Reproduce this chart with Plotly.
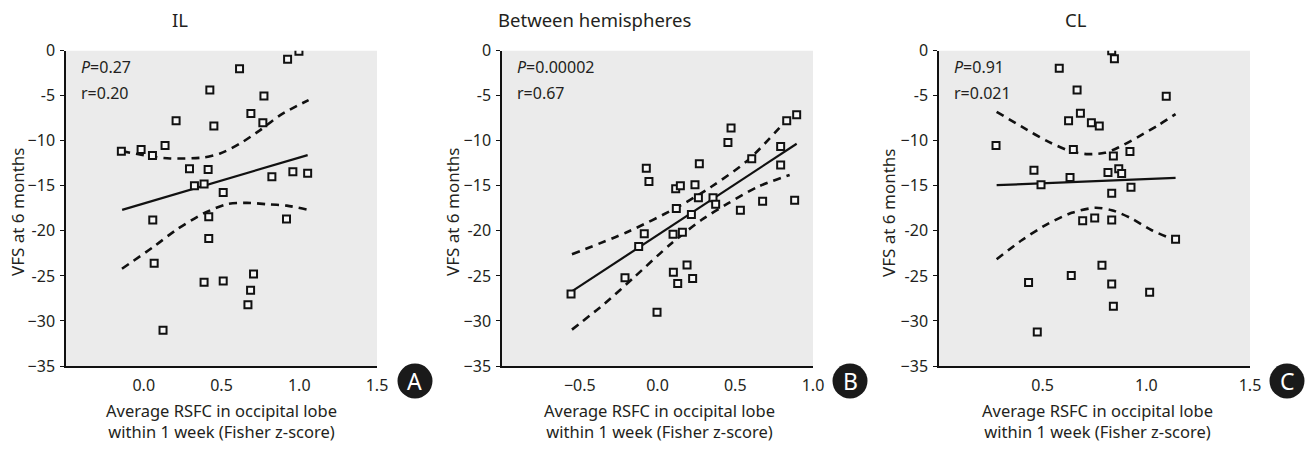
import plotly.graph_objects as go

W, H = 1306, 449

# ---------------- data ----------------
il_x = [-0.144, -0.017, 0.056, 0.137, 0.208, 0.294, 0.414, 0.326, 0.388, 0.425, 0.451,
        0.511, 0.616, 0.689, 0.773, 0.766, 0.824, 0.925, 0.998, 0.959, 1.054, 0.058,
        0.418, 0.418, 0.918, 0.067, 0.388, 0.511, 0.706, 0.687, 0.670, 0.124]
il_y = [-11.15, -10.96, -11.63, -10.52, -7.78, -13.1, -13.19, -15.0, -14.8, -4.37, -8.37,
        -15.74, -2.0, -6.96, -5.04, -8.0, -14.0, -0.96, -0.07, -13.44, -13.6, -18.8,
        -18.44, -20.85, -18.67, -23.6, -25.7, -25.56, -24.78, -26.6, -28.2, -31.04]
il_fit_x = [-0.139, 1.054]
il_fit_y = [-17.67, -11.59]
il_up_x = [-0.14, 0.062, 0.17, 0.384, 0.491, 0.62, 0.749, 0.878, 1.06]
il_up_y = [-11.15, -11.78, -11.96, -11.85, -11.41, -10.3, -8.81, -7.15, -5.48]
il_lo_x = [-0.14, 0.062, 0.212, 0.384, 0.534, 0.663, 0.79, 0.92, 1.049]
il_lo_y = [-24.2, -21.78, -19.85, -18.07, -17.04, -16.89, -17.04, -17.2, -17.63]

bh_x = [-0.556, -0.209, -0.121, -0.085, -0.072, -0.055, -0.003, 0.10, 0.102, 0.13, 0.16,
        0.19, 0.226, 0.121, 0.117, 0.147, 0.218, 0.241, 0.263, 0.269, 0.357, 0.374,
        0.453, 0.473, 0.533, 0.606, 0.676, 0.792, 0.792, 0.831, 0.895, 0.882]
bh_y = [-27.0, -25.2, -21.74, -20.33, -13.04, -14.52, -29.04, -20.37, -24.6, -25.85, -20.15,
        -23.78, -25.3, -17.52, -15.33, -15.0, -18.19, -14.89, -16.33, -12.56, -16.33, -17.04,
        -10.19, -8.59, -17.7, -12.0, -16.7, -10.63, -12.7, -7.78, -7.11, -16.6]
bh_fit_x = [-0.556, 0.895]
bh_fit_y = [-26.78, -10.33]
bh_up_x = [-0.55, -0.19, 0.132, 0.346, 0.582, 0.839]
bh_up_y = [-22.59, -20.1, -17.33, -15.1, -12.15, -7.52]
bh_lo_x = [-0.55, -0.34, -0.147, 0.089, 0.282, 0.453, 0.646, 0.85]
bh_lo_y = [-30.96, -28.07, -25.1, -21.4, -18.8, -16.96, -15.1, -13.8]

cl_x = [0.275, 0.458, 0.492, 0.432, 0.474, 0.58, 0.666, 0.682, 0.625, 0.648, 0.632,
        0.735, 0.773, 0.693, 0.751, 0.638, 0.786, 0.833, 0.846, 0.841, 0.815, 0.867,
        0.881, 0.833, 0.833, 0.833, 0.841, 0.921, 0.926, 1.016, 1.096, 1.141]
cl_y = [-10.52, -13.26, -14.89, -25.74, -31.22, -1.96, -4.37, -6.93, -7.78, -10.96, -14.07,
        -8.0, -8.37, -18.89, -18.56, -24.96, -23.81, 0.0, -0.89, -11.7, -13.52, -13.11,
        -13.63, -15.81, -18.78, -25.89, -28.37, -11.19, -15.15, -26.81, -5.07, -20.93]
cl_fit_x = [0.278, 1.141]
cl_fit_y = [-14.93, -14.11]
cl_up_x = [0.278, 0.399, 0.527, 0.64, 0.72, 0.80, 0.865, 0.961, 1.058, 1.141]
cl_up_y = [-6.78, -8.44, -10.1, -11.2, -11.48, -11.33, -10.74, -9.56, -8.26, -7.04]
cl_lo_x = [0.278, 0.399, 0.527, 0.64, 0.752, 0.833, 0.929, 1.026, 1.141]
cl_lo_y = [-23.15, -21.04, -19.19, -18.0, -17.44, -17.7, -18.63, -19.93, -21.04]

panel_titles = ["IL", "Between hemispheres", "CL"]
p_texts = ["0.27", "0.00002", "0.91"]
r_texts = ["r=0.20", "r=0.67", "r=0.021"]
badges = ["A", "B", "C"]
x_title = "Average RSFC in occipital lobe<br>within 1 week (Fisher z-score)"
y_title = "VFS at 6 months"
y_tickvals = [0, -5, -10, -15, -20, -25, -30, -35]
y_ticktext = ["0", "-5", "\u221210", "\u221215", "-20", "-25", "\u221230", "\u221235"]
x_ranges = [[-0.5, 1.5], [-1.0, 1.0], [0.0, 1.5]]
x_tickvals = [[0.0, 0.5, 1.0, 1.5], [-0.5, 0.0, 0.5, 1.0], [0.5, 1.0, 1.5]]

# ---------------- layout geometry (pixels) ----------------
FONT = "Noto Sans"
TXT = "#231f20"
plot_left = [66, 502, 939]
plot_right = [377, 813, 1250]
plot_top, plot_bottom = 50.7, 366
title_cx = [180, 595, 1076]
ytitle_cx = [17, 452, 888]
xtitle_cx = [222, 659, 1097]
badge_cx = [415, 850, 1287]

def px(x):
    return x / W

def py(y):
    return 1 - y / H

fig = go.Figure()

panels = [
    (il_x, il_y, il_fit_x, il_fit_y, il_up_x, il_up_y, il_lo_x, il_lo_y),
    (bh_x, bh_y, bh_fit_x, bh_fit_y, bh_up_x, bh_up_y, bh_lo_x, bh_lo_y),
    (cl_x, cl_y, cl_fit_x, cl_fit_y, cl_up_x, cl_up_y, cl_lo_x, cl_lo_y),
]

annotations = []
shapes = []
for i, (sx, sy, fx, fy, ux, uy, lx, ly) in enumerate(panels):
    xa = "x" if i == 0 else f"x{i+1}"
    ya = "y" if i == 0 else f"y{i+1}"
    dash_style = dict(color="#111111", width=2.6, dash="8px,6px", shape="spline", smoothing=0.8)
    fig.add_trace(go.Scatter(x=ux, y=uy, mode="lines", line=dash_style, xaxis=xa, yaxis=ya,
                             showlegend=False, hoverinfo="skip"))
    fig.add_trace(go.Scatter(x=lx, y=ly, mode="lines", line=dash_style, xaxis=xa, yaxis=ya,
                             showlegend=False, hoverinfo="skip"))
    fig.add_trace(go.Scatter(x=fx, y=fy, mode="lines", line=dict(color="#111111", width=2.2),
                             xaxis=xa, yaxis=ya, showlegend=False, hoverinfo="skip"))
    fig.add_trace(go.Scatter(x=sx, y=sy, mode="markers", xaxis=xa, yaxis=ya, showlegend=False,
                             marker=dict(symbol="square", size=7, color="#f7f7f7",
                                         line=dict(color="#111111", width=2))))

    ax_x = dict(domain=[px(plot_left[i]), px(plot_right[i])], range=x_ranges[i],
                tickvals=x_tickvals[i], tickformat=".1f", showgrid=False, zeroline=False,
                showline=True, linecolor="#111111", linewidth=1.5, ticks="",
                tickfont=dict(family=FONT, size=16, color=TXT), ticklabelstandoff=4,
                anchor=ya, fixedrange=True, automargin=False)
    ax_y = dict(domain=[py(plot_bottom), py(plot_top)], range=[-35, 0],
                tickvals=y_tickvals, ticktext=y_ticktext, showgrid=False, zeroline=False,
                showline=True, linecolor="#111111", linewidth=1.5, ticks="outside",
                ticklen=4, tickwidth=1.2, tickcolor="#111111",
                tickfont=dict(family=FONT, size=16, color=TXT), ticklabelstandoff=2,
                anchor=xa, fixedrange=True, automargin=False)
    fig.layout[("xaxis" if i == 0 else f"xaxis{i+1}")] = ax_x
    fig.layout[("yaxis" if i == 0 else f"yaxis{i+1}")] = ax_y

    # plot background
    shapes.append(dict(type="rect", xref="paper", yref="paper", layer="below",
                       x0=px(plot_left[i]), x1=px(plot_right[i]),
                       y0=py(plot_bottom), y1=py(plot_top),
                       fillcolor="#ebebeb", line=dict(width=0)))
    # badge circle
    r = 17.5
    shapes.append(dict(type="circle", xref="paper", yref="paper",
                       x0=px(badge_cx[i] - r), x1=px(badge_cx[i] + r),
                       y0=py(381 + r), y1=py(381 - r),
                       fillcolor="#1a1a1a", line=dict(width=0)))
    annotations.append(dict(text=badges[i], x=px(badge_cx[i]), y=py(381), xref="paper",
                            yref="paper", showarrow=False, xanchor="center", yanchor="middle",
                            font=dict(family=FONT, size=23, color="white")))
    # titles
    annotations.append(dict(text=panel_titles[i], x=px(title_cx[i]), y=py(20), xref="paper",
                            yref="paper", showarrow=False, xanchor="center", yanchor="middle",
                            font=dict(family=FONT, size=18.5, color=TXT)))
    annotations.append(dict(text=y_title, x=px(ytitle_cx[i]), y=py(212),
                            xref="paper", yref="paper", showarrow=False, textangle=-90,
                            xanchor="center", yanchor="middle",
                            font=dict(family=FONT, size=17, color=TXT)))
    annotations.append(dict(text=x_title, x=px(xtitle_cx[i]), y=py(420.5),
                            xref="paper", yref="paper", showarrow=False,
                            xanchor="center", yanchor="middle", align="center",
                            font=dict(family=FONT, size=16.5, color=TXT)))
    # stats
    annotations.append(dict(text="<i>P</i>=" + p_texts[i], x=px(plot_left[i] + 13), y=py(67),
                            xref="paper", yref="paper", showarrow=False, xanchor="left",
                            yanchor="middle", font=dict(family=FONT, size=16, color=TXT)))
    annotations.append(dict(text=r_texts[i], x=px(plot_left[i] + 13), y=py(93.5),
                            xref="paper", yref="paper", showarrow=False, xanchor="left",
                            yanchor="middle", font=dict(family=FONT, size=16, color=TXT)))

fig.update_layout(width=W, height=H,
                  margin=dict(l=0, r=0, t=0, b=0, pad=0, autoexpand=False),
                  template="none",
                  paper_bgcolor="white", plot_bgcolor="rgba(0,0,0,0)",
                  shapes=shapes, annotations=annotations, showlegend=False,
                  font=dict(family=FONT, color=TXT))

fig.write_html("out.html", config={"displayModeBar": False})
